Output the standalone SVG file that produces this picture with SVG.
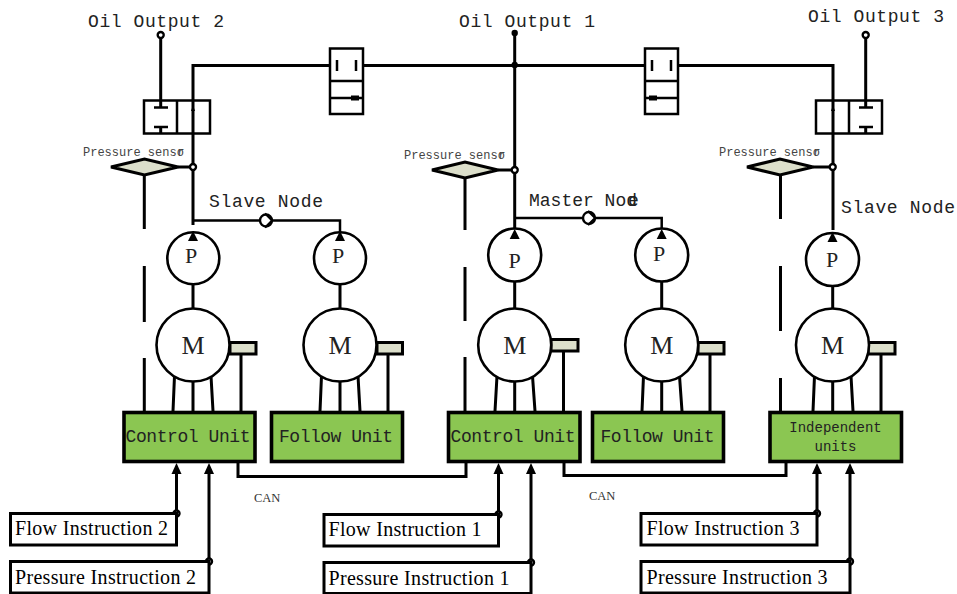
<svg xmlns="http://www.w3.org/2000/svg" xmlns:xlink="http://www.w3.org/1999/xlink" width="957" height="594" viewBox="0 0 957 594">
<style>
.l{fill:none;stroke:#000;stroke-width:3}
.t{fill:none;stroke:#000;stroke-width:2}
.n{fill:none;stroke:#000;stroke-width:2.5}
.c{fill:#fff;stroke:#000;stroke-width:2.6}
.s{fill:#dcdfcb;stroke:#000;stroke-width:3}
.u{fill:#8bc652;stroke:#000;stroke-width:3.6}
.b{fill:#fff;stroke:#000;stroke-width:3}
.k{fill:#000}
.o{fill:#fff;stroke:#000;stroke-width:2.4}
text{font-family:"Liberation Mono","DejaVu Sans Mono",monospace;fill:#222}
.m{font-size:18px}
.g{font-size:12px;fill:#444}
.p{font-size:22px;font-family:"Liberation Serif",serif;transform-box:fill-box;text-anchor:middle}
.i{font-family:"Liberation Serif",serif;font-size:20px;fill:#000}
.z{font-family:"Liberation Serif",serif;font-size:12.5px;fill:#333}
</style>
<defs>
<g id="ko"><circle r="3" class="o"/></g>
<g id="kd"><circle r="3.2" class="k"/></g>
<path id="ar" class="k" d="M0 0l-5 11h10z"/>
<path id="check" d="M1-7 -6 0 1 7" fill="none" stroke="#000" stroke-width="0"/>
</defs>

<g id="connectors">
<path class="l" d="M193 225V65.5H330M363 65.5H645M678 65.5H833V230"/>
<path class="l" d="M514.7 33V230"/>
<path class="l" d="M160.7 35V107M160.7 127V134M865.7 35V107M865.7 127V134"/>
<path class="n" d="M193 220.5H260M272 220.5H340V232"/>
<path class="n" d="M514.7 218H583M595 218H661.7V230"/>
<path class="l" d="M178 167H193M498 170H514.7M813 167H833"/>
<path class="l" d="M144.3 175V229M144.3 266V322M144.3 358V411M465 178V230M465 267V321M465 357V411M780.5 175V219M780.5 266V331M780.5 378V411"/>
<path class="l" d="M193 284V309M340 284V309M514.7 282V309M661.7 282V309M832.7 286V309"/>
<path class="l" d="M174.500 376L173 411M193 381V411M211 376L213 411M241 354V411"/>
<path class="l" d="M321.500 376L320 411M340 381V411M358 376L360 411M388 354V411"/>
<path class="l" d="M497 376L495 411M514.700 381V411M532.500 376L535 411M563.500 351V411"/>
<path class="l" d="M643.500 376L642 411M661.700 381V411M679.500 376L682 411M710 354V411"/>
<path class="l" d="M814.500 376L813 411M832.700 381V411M851 376L853 411M881 354V411"/>
<path class="l" d="M238 463V476.500H466V463M564 463V475.500H786V463"/>
<path class="l" d="M176.500 513V470M209 561V470M498.500 514V470M531 562V470M817 513V470M850 561V470"/>
<use xlink:href="#ar" href="#ar" x="176.500" y="463"/><use href="#ar" x="209" y="463"/><use href="#ar" x="498.500" y="463"/><use href="#ar" x="531" y="463"/><use href="#ar" x="817" y="463"/><use href="#ar" x="850" y="463"/>
<use href="#kd" x="514.700" y="33"/><use href="#kd" x="514.700" y="65"/>
<use href="#ko" x="160.700" y="35"/><use href="#ko" x="865.700" y="35"/>
<use href="#ko" x="193" y="167"/><use href="#ko" x="514.700" y="170"/><use href="#ko" x="832.700" y="167"/>
<use href="#ko" x="176.500" y="513.500"/><use href="#ko" x="209" y="561.500"/><use href="#ko" x="498.500" y="514.500"/><use href="#ko" x="531" y="562.500"/><use href="#ko" x="817" y="513.500"/><use href="#ko" x="850" y="561.500"/>
<circle cx="266" cy="220.500" r="6" class="o"/><circle cx="589" cy="218" r="6" class="o"/>
<path class="t" d="M265 213.500 272 220.500 265 227.500M588 211 595 218 588 225"/>
</g>

<g id="valve-left">
<rect class="n" x="144" y="100.500" width="66" height="33"/><path class="n" d="M177 100.500V133.500M154 107.500H168M154 127H168"/>
<path class="k" d="M193 105l-2 6h4z"/>
</g>
<g id="valve-right">
<rect class="n" x="816" y="100.500" width="66" height="33"/><path class="n" d="M849 100.500V133.500M859 107.500H873M859 127H873"/>
<path class="k" d="M833 105l-2 6h4z"/>
</g>
<g id="valve-top-1">
<rect class="n" x="330" y="48.500" width="33" height="65.500"/><path class="n" d="M330 81H363M330 98H363M337 60V71M356 60V71"/><path class="k" d="M351 95.500h8v5h-8z"/>
</g>
<g id="valve-top-2">
<rect class="n" x="645" y="48.500" width="33" height="65.500"/><path class="n" d="M645 81H678M645 98H678M652 60V71M671 60V71"/><path class="k" d="M649 95.500h8v5h-8z"/>
</g>

<g id="sensor-2"><path class="s" d="M111 167 144.500 159 178 167 144.500 175Z"/><text class="g" x="83" y="156">Pressure  sens<tspan>o</tspan><tspan dx="-6.500">r</tspan></text></g>
<g id="sensor-1"><path class="s" d="M432 170 465 162 498 170 465 178Z"/><text class="g" x="404" y="159">Pressure  sens<tspan>o</tspan><tspan dx="-6.500">r</tspan></text></g>
<g id="sensor-3"><path class="s" d="M747 167 780 159 813 167 780 175Z"/><text class="g" x="719" y="156">Pressure  sens<tspan>o</tspan><tspan dx="-6.500">r</tspan></text></g>

<g id="pump-2a"><circle class="c" cx="193.300" cy="258.300" r="26"/><path class="k" d="M193 231l-5 10h10z"/><text class="p" x="191" y="263" font-size="20">P</text></g>
<g id="pump-2b"><circle class="c" cx="340" cy="258.300" r="26"/><path class="k" d="M340 231l-5 10h10z"/><text class="p" x="338" y="263">P</text></g>
<g id="pump-1a"><circle class="c" cx="514.700" cy="255" r="26.500"/><path class="k" d="M514.700 229l-5 10h10z"/><text class="p" x="514.500" y="268">P</text></g>
<g id="pump-1b"><circle class="c" cx="661.700" cy="255" r="26.500"/><path class="k" d="M661.700 229l-5 10h10z"/><text class="p" x="659" y="261">P</text></g>
<g id="pump-3"><circle class="c" cx="832.500" cy="259.500" r="26.500"/><path class="k" d="M832.500 232l-5 10h10z"/><text class="p" x="832" y="267">P</text></g>

<g id="motor-2a"><rect class="s" x="230" y="342.500" width="26" height="11.500"/><circle class="c" cx="193" cy="345" r="36.500"/><text class="p" x="193" y="354" style="font-size:26px">M</text></g>
<g id="motor-2b"><rect class="s" x="377" y="342.500" width="25.500" height="11.500"/><circle class="c" cx="340" cy="345" r="36.500"/><text class="p" x="340" y="354" style="font-size:26px">M</text></g>
<g id="motor-1a"><rect class="s" x="551" y="339.500" width="27" height="11.500"/><circle class="c" cx="514.700" cy="345" r="36.500"/><text class="p" x="514.700" y="354" style="font-size:26px">M</text></g>
<g id="motor-1b"><rect class="s" x="698" y="342.500" width="26" height="11.500"/><circle class="c" cx="661.700" cy="345" r="36.500"/><text class="p" x="661.700" y="354" style="font-size:26px">M</text></g>
<g id="motor-3"><rect class="s" x="868" y="342.500" width="27" height="11.500"/><circle class="c" cx="832.500" cy="345" r="36.500"/><text class="p" x="832.500" y="354" style="font-size:26px">M</text></g>

<g id="unit-control-2"><rect class="u" x="124" y="412.500" width="131" height="49"/><text class="m" x="125.500" y="442" textLength="125">Control  Unit</text></g>
<g id="unit-follow-2"><rect class="u" x="271.500" y="412.500" width="131" height="49"/><text class="m" x="279" y="442" textLength="114">Follow  Unit</text></g>
<g id="unit-control-1"><rect class="u" x="448.500" y="412.500" width="131.500" height="49"/><text class="m" x="450.500" y="442" textLength="125">Control  Unit</text></g>
<g id="unit-follow-1"><rect class="u" x="592.500" y="412.500" width="131" height="49"/><text class="m" x="600.500" y="442" textLength="114">Follow  Unit</text></g>
<g id="unit-independent"><rect class="u" x="770" y="412.500" width="131.500" height="49"/><text x="835.500" y="432" text-anchor="middle" font-size="14">Independent</text><text x="835.500" y="451" text-anchor="middle" font-size="14">units</text></g>

<g id="flow-2"><rect class="b" x="10.500" y="513.500" width="166" height="31.500"/><text class="i" x="15" y="535" textLength="153">Flow Instruction 2</text></g>
<g id="pressure-2"><rect class="b" x="10.500" y="561.500" width="198.500" height="31.500"/><text class="i" x="15" y="584" textLength="181">Pressure Instruction 2</text></g>
<g id="flow-1"><rect class="b" x="324" y="514.500" width="174.500" height="31.500"/><text class="i" x="328.500" y="536" textLength="153">Flow Instruction 1</text></g>
<g id="pressure-1"><rect class="b" x="324" y="562.500" width="207" height="31"/><text class="i" x="328.500" y="585" textLength="181">Pressure Instruction 1</text></g>
<g id="flow-3"><rect class="b" x="641" y="513.500" width="176" height="31.500"/><text class="i" x="646.500" y="535" textLength="153">Flow Instruction 3</text></g>
<g id="pressure-3"><rect class="b" x="641" y="561.500" width="209" height="31.500"/><text class="i" x="646.500" y="584" textLength="181">Pressure Instruction 3</text></g>

<g id="labels">
<text class="m" x="88" y="27" textLength="136">Oil  Output 2</text>
<text class="m" x="459" y="27" textLength="136">Oil  Output 1</text>
<text class="m" x="808" y="22" textLength="136">Oil  Output 3</text>
<text class="m" x="209" y="207" textLength="114">Slave  Node</text>
<text class="m" x="841" y="213" textLength="114">Slave  Node</text>
<text class="m" x="529" y="206">Master  Nod<tspan dx="-9">e</tspan></text>
<text class="z" x="254" y="502">CAN</text>
<text class="z" x="589" y="500">CAN</text>
</g>
</svg>
